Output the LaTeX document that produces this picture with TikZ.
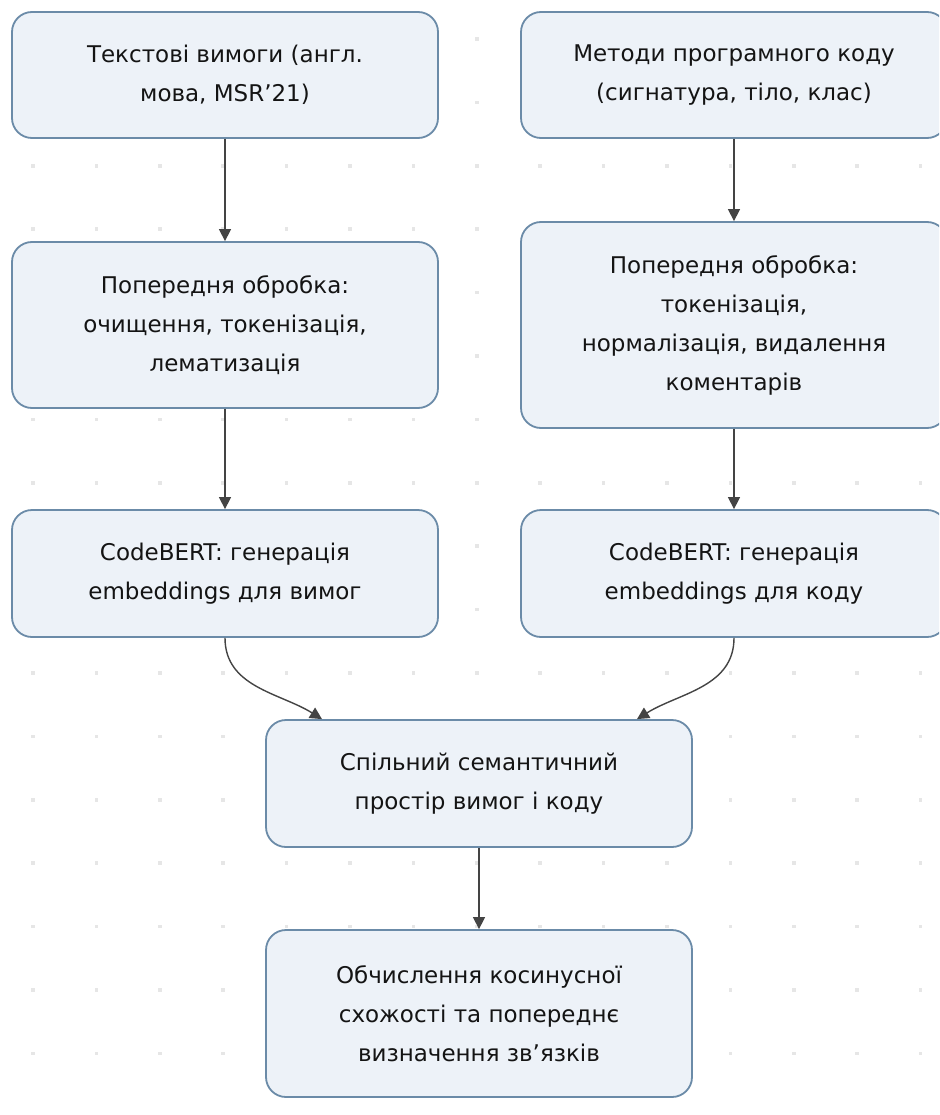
\documentclass[tikz,border=0pt]{standalone}
\usepackage{fontspec}
\setmainfont{DejaVu Sans}
\usetikzlibrary{arrows.meta}
\definecolor{boxfill}{HTML}{EDF2F8}
\definecolor{boxline}{HTML}{6B8BA8}
\definecolor{dotgray}{HTML}{E6E6E6}
\definecolor{arrgray}{HTML}{444444}
\tikzset{
  stage/.style={draw=boxline,fill=boxfill,line width=1.8pt,rounded corners=20pt,
    minimum width=426pt,align=center,text=black!92,
    font=\fontsize{23}{39}\selectfont},
  flow/.style={draw=arrgray,line width=1.4pt,-{Triangle[length=12pt,width=12pt]}}
}
\begin{document}
\begin{tikzpicture}[x=1pt,y=-1pt]
\useasboundingbox (0,0) rectangle (939,1115);
\clip (0,0) rectangle (939,1115);
\fill [white] (0,0) rectangle (939,1115);
% dotted grid
\foreach \i in {0,...,14}
  \foreach \j in {0,...,17}
    \fill [dotgray] (33+63.4*\i-1.8,39+63.4*\j-1.8) rectangle ++(3.6,3.6);
\begin{scope}
\node [stage,minimum height=126pt] (req)      at (225,75)    {Текстові вимоги (англ.\\ мова, MSR’21)};
\node [stage,minimum height=126pt] (code)     at (734,75)    {Методи програмного коду\\ (сигнатура, тіло, клас)};
\node [stage,minimum height=166pt] (prepreq)  at (225,325)   {Попередня обробка:\\ очищення, токенізація,\\ лематизація};
\node [stage,minimum height=206pt] (prepcode) at (734,325)   {Попередня обробка:\\ токенізація,\\ нормалізація, видалення\\ коментарів};
\node [stage,minimum height=127pt] (embreq)   at (225,573.5) {CodeBERT: генерація\\ embeddings для вимог};
\node [stage,minimum height=127pt] (embcode)  at (734,573.5) {CodeBERT: генерація\\ embeddings для коду};
\node [stage,minimum height=127pt] (space)    at (479,783.5) {Спільний семантичний\\ простір вимог і коду};
\node [stage,minimum height=167pt] (sim)      at (479,1013.5) {Обчислення косинусної\\ схожості та попереднє\\ визначення зв’язків};
\end{scope}
\draw [flow] (req) -- (prepreq);
\draw [flow] (code) -- (prepcode);
\draw [flow] (prepreq) -- (embreq);
\draw [flow] (prepcode) -- (embcode);
\draw [flow] (embreq.south) to [out=-90,in=148] ([xshift=-157pt]space.north);
\draw [flow] (embcode.south) to [out=-90,in=32] ([xshift=158pt]space.north);
\draw [flow] (space) -- (sim);
\end{tikzpicture}
\end{document}
